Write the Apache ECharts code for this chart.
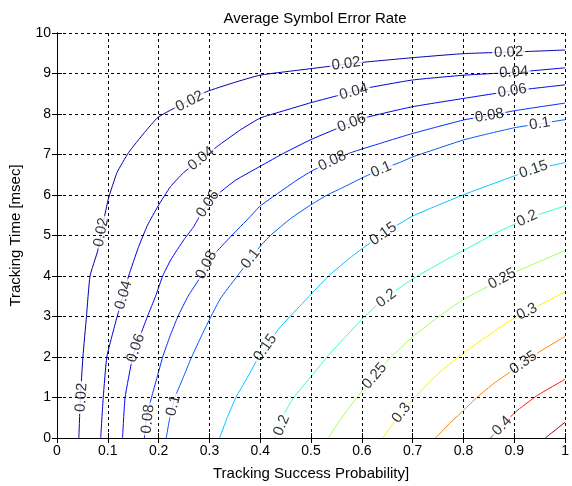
<!DOCTYPE html>
<html>
<head>
<meta charset="UTF-8">
<title>Average Symbol Error Rate</title>
<script src="https://cdn.jsdelivr.net/npm/echarts@6/dist/echarts.min.js"></script>
<style>
  html, body { margin: 0; padding: 0; background: #fff; }
  #chart { width: 572px; height: 486px; }
</style>
</head>
<body>
<div id="chart"></div>
<script>
  // contour levels, and each contour as [prob, time] points
  const levels = [0.02, 0.04, 0.06, 0.08, 0.1, 0.15, 0.2, 0.25, 0.3, 0.35, 0.4, 0.45];

  const c002 = [[0.043,0],[0.046,1],[0.051,2],[0.058,3],[0.065,4],[0.08,4.62],[0.094,5.5],[0.101,5.9],[0.118,6.55],[0.141,7.05],[0.172,7.54],[0.199,7.92],[0.25,8.27],[0.294,8.55],[0.347,8.77],[0.40,8.96],[0.50,9.12],[0.597,9.27],[0.70,9.39],[0.80,9.49],[0.918,9.54],[1.0,9.58]];
  const c004 = [[0.086,0],[0.091,1],[0.098,2],[0.112,2.7],[0.125,3.3],[0.141,4.0],[0.16,4.7],[0.178,5.25],[0.199,5.73],[0.223,6.2],[0.249,6.55],[0.284,6.9],[0.321,7.25],[0.36,7.6],[0.40,7.9],[0.441,8.06],[0.50,8.28],[0.545,8.43],[0.61,8.64],[0.70,8.84],[0.803,8.96],[0.90,9.03],[1.0,9.14]];
  const c006 = [[0.129,0],[0.134,1],[0.149,2],[0.160,2.4],[0.178,3.0],[0.194,3.5],[0.208,4.0],[0.224,4.4],[0.25,4.9],[0.268,5.2],[0.282,5.5],[0.297,5.78],[0.315,6.0],[0.334,6.2],[0.352,6.37],[0.40,6.71],[0.449,7.05],[0.50,7.37],[0.551,7.64],[0.58,7.78],[0.61,7.92],[0.70,8.18],[0.803,8.39],[0.896,8.57],[1.0,8.72]];
  const c008 = [[0.172,0],[0.176,0.5],[0.186,1.0],[0.197,1.5],[0.208,2.0],[0.222,2.5],[0.238,3.0],[0.258,3.5],[0.282,3.97],[0.294,4.27],[0.314,4.6],[0.344,5.0],[0.379,5.45],[0.40,5.73],[0.437,6.06],[0.47,6.35],[0.501,6.59],[0.542,6.84],[0.577,7.04],[0.64,7.29],[0.70,7.52],[0.803,7.86],[0.851,7.96],[0.90,8.08],[1.0,8.27]];
  const c010 = [[0.215,0],[0.222,0.5],[0.232,1.0],[0.247,1.45],[0.265,2.0],[0.292,2.72],[0.321,3.43],[0.353,3.97],[0.381,4.43],[0.403,4.78],[0.42,5.0],[0.46,5.42],[0.50,5.76],[0.532,6.0],[0.565,6.2],[0.605,6.45],[0.638,6.63],[0.674,6.8],[0.70,6.94],[0.803,7.37],[0.90,7.66],[0.95,7.76],[1.0,7.86]];
  const c015 = [[0.32,0],[0.335,0.5],[0.352,1.0],[0.375,1.5],[0.397,2.0],[0.41,2.23],[0.438,2.72],[0.479,3.27],[0.50,3.55],[0.537,4.03],[0.577,4.45],[0.60,4.67],[0.642,5.04],[0.70,5.48],[0.803,6.02],[0.90,6.47],[0.938,6.63],[1.0,6.8]];
  const c020 = [[0.429,0],[0.437,0.3],[0.447,0.6],[0.466,1.0],[0.5,1.52],[0.537,2.08],[0.60,2.93],[0.634,3.33],[0.66,3.58],[0.70,3.93],[0.77,4.43],[0.80,4.63],[0.867,5.08],[0.925,5.42],[1.0,5.73]];
  const c025 = [[0.534,0],[0.552,0.35],[0.571,0.68],[0.60,1.16],[0.625,1.53],[0.654,1.95],[0.70,2.5],[0.757,3.05],[0.80,3.42],[0.876,3.93],[0.906,4.12],[1.0,4.63]];
  const c030 = [[0.641,0],[0.66,0.33],[0.678,0.62],[0.70,0.95],[0.744,1.52],[0.80,2.1],[0.86,2.63],[0.90,2.96],[0.925,3.12],[1.0,3.61]];
  const c035 = [[0.745,0],[0.772,0.35],[0.80,0.68],[0.828,1.02],[0.86,1.35],[0.893,1.64],[0.918,1.86],[0.951,2.14],[1.0,2.51]];
  const c040 = [[0.853,0],[0.876,0.3],[0.902,0.64],[0.944,1.04],[1.0,1.45]];
  const c045 = [[0.961,0],[1.0,0.39]];

  // where the inline labels sit on each contour
  const l002 = [[0.048,1.0],[0.087,5.08],[0.261,8.31],[0.569,9.24],[0.889,9.52]];
  const l004 = [[0.131,3.53],[0.284,6.9],[0.584,8.55],[0.899,9.03]];
  const l006 = [[0.155,2.22],[0.297,5.78],[0.58,7.78],[0.896,8.57]];
  const l008 = [[0.179,0.47],[0.294,4.27],[0.542,6.84],[0.851,7.96]];
  const l010 = [[0.229,0.8],[0.381,4.43],[0.638,6.63],[0.95,7.76]];
  const l015 = [[0.41,2.23],[0.642,5.04],[0.938,6.63]];
  const l020 = [[0.442,0.31],[0.648,3.45],[0.925,5.42]];
  const l025 = [[0.625,1.53],[0.876,3.93]];
  const l030 = [[0.678,0.62],[0.925,3.12]];
  const l035 = [[0.918,1.86]];
  const l040 = [[0.876,0.3]];
  const l045 = [];

  const contourLines = [c002, c004, c006, c008, c010, c015, c020, c025, c030, c035, c040, c045];
  const contourLabels = [l002, l004, l006, l008, l010, l015, l020, l025, l030, l035, l040, l045];

  const font = 'Liberation Sans, Arial, Helvetica, sans-serif';

  // matlab jet colormap
  function jet(t) {
    const c = v => Math.round(255 * Math.max(0, Math.min(1, v)));
    const r = c(Math.min(4 * t - 1.5, -4 * t + 4.5));
    const g = c(Math.min(4 * t - 0.5, -4 * t + 3.5));
    const b = c(Math.min(4 * t + 0.5, -4 * t + 2.5));
    return `rgb(${r},${g},${b})`;
  }

  const chart = echarts.init(document.getElementById('chart'));

  function axisCommon() {
    return {
      type: 'value', z: 5,
      axisLine: { show: true, lineStyle: { color: '#000', width: 1 } },
      axisTick: { show: true, inside: true, length: 5, lineStyle: { color: '#000' } },
      axisLabel: { color: '#000', fontFamily: font, fontSize: 14, margin: 6 }
    };
  }

  function buildOption(rotations) {
    const lineSeries = contourLines.map((pts, i) => ({
      type: 'line',
      data: pts,
      showSymbol: false,
      smooth: 0.15,
      silent: true,
      z: 2,
      lineStyle: { color: jet(levels[i] / 0.47), width: 1 }
    }));

    const labelData = [];
    contourLabels.forEach((list, i) => {
      list.forEach((p, j) => {
        labelData.push({
          value: p,
          text: String(levels[i]),
          label: { rotate: rotations ? rotations[i][j] : 0 }
        });
      });
    });

    return {
      animation: false,
      backgroundColor: '#fff',
      title: {
        text: 'Average Symbol Error Rate',
        left: 310, top: 6, textAlign: 'center',
        textStyle: { color: '#000', fontFamily: font, fontSize: 15, fontWeight: 'normal' }
      },
      grid: { left: 51, top: 33, width: 518, height: 408 },
      xAxis: [
        Object.assign(axisCommon(), {
          min: 0, max: 1, interval: 0.1,
          name: 'Tracking Success Probability]',
          nameLocation: 'middle', nameGap: 28,
          nameTextStyle: { color: '#000', fontFamily: font, fontSize: 15 },
          axisLabel: { color: '#000', fontFamily: font, fontSize: 14, margin: 6,
            formatter: v => String(+v.toFixed(1)) },
          splitLine: { show: true, lineStyle: { color: '#000', type: [3, 3], width: 1 } }
        }),
        Object.assign(axisCommon(), {
          position: 'top', min: 0, max: 1, interval: 0.1,
          axisLabel: { show: false }, splitLine: { show: false }
        })
      ],
      yAxis: [
        Object.assign(axisCommon(), {
          min: 0, max: 10, interval: 1,
          name: 'Tracking Time [msec]',
          nameLocation: 'middle', nameGap: 34,
          nameTextStyle: { color: '#000', fontFamily: font, fontSize: 15 },
          splitLine: { show: true, lineStyle: { color: '#000', type: [3, 3], width: 1 } }
        }),
        Object.assign(axisCommon(), {
          position: 'right', min: 0, max: 10, interval: 1,
          axisLabel: { show: false }, splitLine: { show: false }
        })
      ],
      series: lineSeries.concat([{
        type: 'scatter',
        data: labelData,
        symbolSize: 1,
        silent: true,
        z: 3,
        itemStyle: { color: 'rgba(0,0,0,0)' },
        label: {
          show: true, position: 'inside',
          formatter: p => p.data.text,
          color: '#000', fontFamily: font, fontSize: 15,
          textBorderWidth: 0,
          backgroundColor: '#fff', padding: [0, 2]
        }
      }])
    };
  }

  // angle of the contour segment nearest to a label, in screen space
  function labelAngle(pts, at) {
    const P = pts.map(p => chart.convertToPixel({ gridIndex: 0 }, p));
    const L = chart.convertToPixel({ gridIndex: 0 }, at);
    let best = 0, bestD = Infinity;
    for (let i = 0; i < P.length - 1; i++) {
      const a = P[i], b = P[i + 1];
      const dx = b[0] - a[0], dy = b[1] - a[1];
      const len2 = dx * dx + dy * dy || 1;
      let t = ((L[0] - a[0]) * dx + (L[1] - a[1]) * dy) / len2;
      t = Math.max(0, Math.min(1, t));
      const d = Math.hypot(a[0] + t * dx - L[0], a[1] + t * dy - L[1]);
      if (d < bestD) { bestD = d; best = i; }
    }
    const a = P[best], b = P[best + 1];
    let ang = Math.atan2(a[1] - b[1], b[0] - a[0]) * 180 / Math.PI;
    if (ang > 90) ang -= 180;
    if (ang <= -90) ang += 180;
    return ang;
  }

  chart.setOption(buildOption(null));
  const rotations = contourLabels.map((list, i) => list.map(p => labelAngle(contourLines[i], p)));
  chart.setOption(buildOption(rotations));
</script>
</body>
</html>
